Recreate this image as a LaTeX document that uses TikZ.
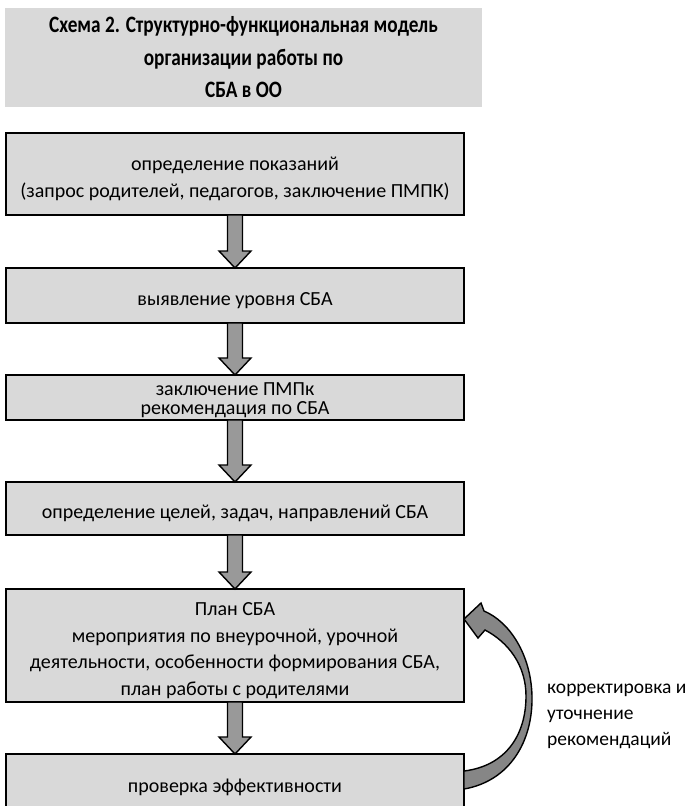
\documentclass[tikz,border=0pt]{standalone}
\usepackage{fontspec}
\setmainfont{Carlito}
\newfontfamily\titlefont{Carlito}[FakeStretch=0.82]
\usepackage{tikz}
\usetikzlibrary{calc,positioning}
\definecolor{boxgray}{HTML}{D9D9D9}
\definecolor{arrowgray}{HTML}{999999}
\definecolor{loopgray}{HTML}{868686}
% extra room above the first line, so the text sits a little low in its box
\newcommand{\padtop}{\rule{0pt}{23pt}}
\tikzset{
    every picture/.style={line cap=butt,line join=miter},
    stepbox/.style={draw=black,fill=boxgray,line width=1.4pt,outer sep=0pt,
      minimum width=458pt,inner sep=2pt,align=center},
    titlebox/.style={fill=boxgray,minimum width=477pt,minimum height=99pt,
      inner sep=0pt,align=center,
      font=\titlefont\bfseries\fontsize{23.5}{32.5}\selectfont},
    fatarrow/.style={draw=black,fill=arrowgray,line width=1.4pt},
    loopband/.style={draw=black,fill=loopgray,line width=1.4pt},
    loopnote/.style={anchor=west,inner sep=0pt,align=left,
      font=\fontsize{19.5}{26}\selectfont}
}
% block arrow from the bottom of one box to the top of the next
\newcommand{\flowdown}[2]{%
  \draw[fatarrow] let \p1=(#1.south), \p2=(#2.north) in
    (\x1-7.5pt,\y1) -- (\x1+7.5pt,\y1) -- (\x1+7.5pt,\y2+17pt)
    -- (\x1+16pt,\y2+17pt) -- (\x1,\y2) -- (\x1-16pt,\y2+17pt)
    -- (\x1-7.5pt,\y2+17pt) -- cycle;}

\begin{document}
\begin{tikzpicture}[x=1pt,y=-1pt,font=\fontsize{20}{26.5}\selectfont]
  \useasboundingbox (0,0) rectangle (689,806);

  \node[titlebox] (title) at (243.5,57.5)
    {Схема 2. Структурно-функциональная модель\\организации работы по\\СБА в ОО};

  \node[stepbox,minimum height=82pt] (show) at (235,174)
    {\padtop определение показаний\\(запрос родителей, педагогов, заключение ПМПК)};
  \node[stepbox,minimum height=55pt] (level) at (235,295.5)
    {\padtop выявление уровня СБА};
  \node[stepbox,minimum height=45pt,inner ysep=0pt,
    font=\fontsize{20}{19}\selectfont] (pmpk) at (235,397.5)
    {\rule{0pt}{19pt}заключение ПМПк\\рекомендация по СБА};
  \node[stepbox,minimum height=53pt] (goals) at (235,508.5)
    {\padtop определение целей, задач, направлений СБА};
  \node[stepbox,minimum height=113pt] (plan) at (235,645.5)
    {\padtop План СБА\\мероприятия по внеурочной, урочной\\деятельности, особенности формирования СБА,\\план работы с родителями};
  \node[stepbox,minimum height=58pt] (check) at (235,783)
    {\padtop проверка эффективности};

  \flowdown{show}{level}
  \flowdown{level}{pmpk}
  \flowdown{pmpk}{goals}
  \flowdown{goals}{plan}
  \flowdown{plan}{check}

  % curved feedback arrow: from the last box back to the plan
  \draw[loopband] let \p1=(check.east), \p2=(plan.east) in
    (\x1,\y1-6pt) .. controls (\x1+46pt,\y1+2pt) and (\x1+69pt,\y1+42pt)
    .. (\x1+68pt,\y1+87pt) .. controls (\x2+67pt,\y2-9.5pt) and (\x2+46pt,\y2+23.5pt)
    .. (\x2+20pt,\y2+34.5pt) -- (\x2+17pt,\y2+42.5pt) -- (\x2,\y2+26.5pt)
    -- (\x2+14pt,\y2+7.5pt) -- (\x2+21pt,\y2+15.5pt)
    .. controls (\x2+44pt,\y2+3.5pt) and (\x2+62pt,\y2-19.5pt)
    .. (\x1+62pt,\y1+87pt) .. controls (\x1+62pt,\y1+47pt) and (\x1+41pt,\y1+17pt)
    .. (\x1,\y1+12pt) -- cycle;

  \node[loopnote] (note) at (547,716)
    {корректировка и\\уточнение\\рекомендаций};
\end{tikzpicture}
\end{document}
